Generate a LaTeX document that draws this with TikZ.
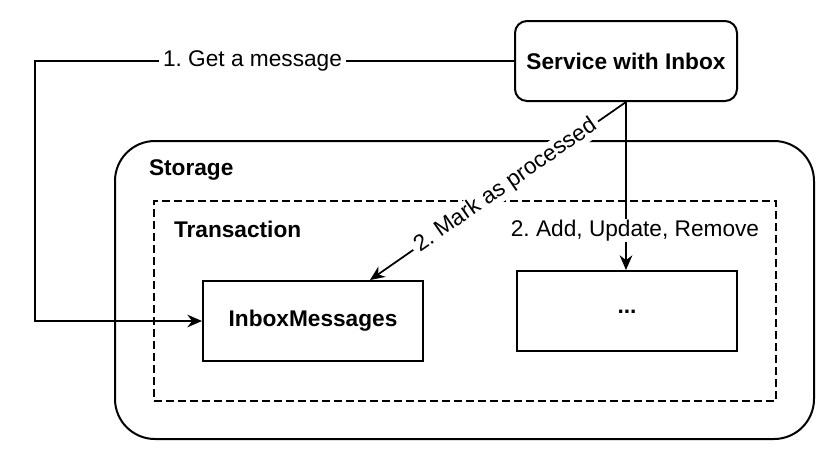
\documentclass[tikz,border=0pt]{standalone}
\usepackage{fontspec}
\setmainfont{Liberation Sans}
\usetikzlibrary{arrows.meta}
\begin{document}
\frenchspacing
\begin{tikzpicture}[x=0.75pt,y=-0.75pt,
  font=\fontsize{17}{20}\selectfont\frenchspacing,
  line width=1.5pt,
  box/.style={draw, line width=1.5pt, minimum width=165pt, minimum height=60pt, inner sep=0pt, font=\fontsize{17}{20}\selectfont\bfseries},
  arr/.style={-{Stealth[length=11pt,width=9.5pt]}, line width=1.3pt},
  lbl/.style={fill=white, inner xsep=3pt, inner ysep=1pt},
  title/.style={anchor=west, inner sep=0pt, font=\fontsize{17}{20}\selectfont\bfseries}]
\useasboundingbox (0,0) rectangle (836,462);
% containers
\node[draw, line width=1.5pt, rounded corners=30pt, minimum width=524.25pt, minimum height=223.5pt, inner sep=0pt] (storage) at (464.5,290) {};
\node[draw, dashed, dash pattern=on 6pt off 3pt, line width=1.5pt, minimum width=466.5pt, minimum height=150pt, inner sep=0pt] (trans) at (465,301) {};
\node[title] (storagelbl) at (148,170) {Storage};
\node[title] (translbl) at (173,229) {Transaction};
% boxes
\node[box, rounded corners=9pt, minimum width=166.5pt] (svc) at (626,61) {Service with Inbox};
\node[box] (inbox) at (313,321) {InboxMessages};
\node[box] (dots) at (627,311) {\raisebox{-3pt}{...}};
% connectors
\coordinate (c1) at (35,61);
\draw[arr] (svc.west) -- node[lbl, pos=0.546] {1. Get a message} (c1) |- (inbox.west);
\draw[arr] (svc.south) -- node[lbl, pos=0.47, rotate=34.8] {2. Mark as processed} ([xshift=42.75pt]inbox.north);
\draw[arr] (svc.south) -- node[lbl, pos=0.765, xshift=6.75pt, inner xsep=1pt] {2. Add, Update, Remove} (svc.south |- dots.north);
\end{tikzpicture}
\end{document}
